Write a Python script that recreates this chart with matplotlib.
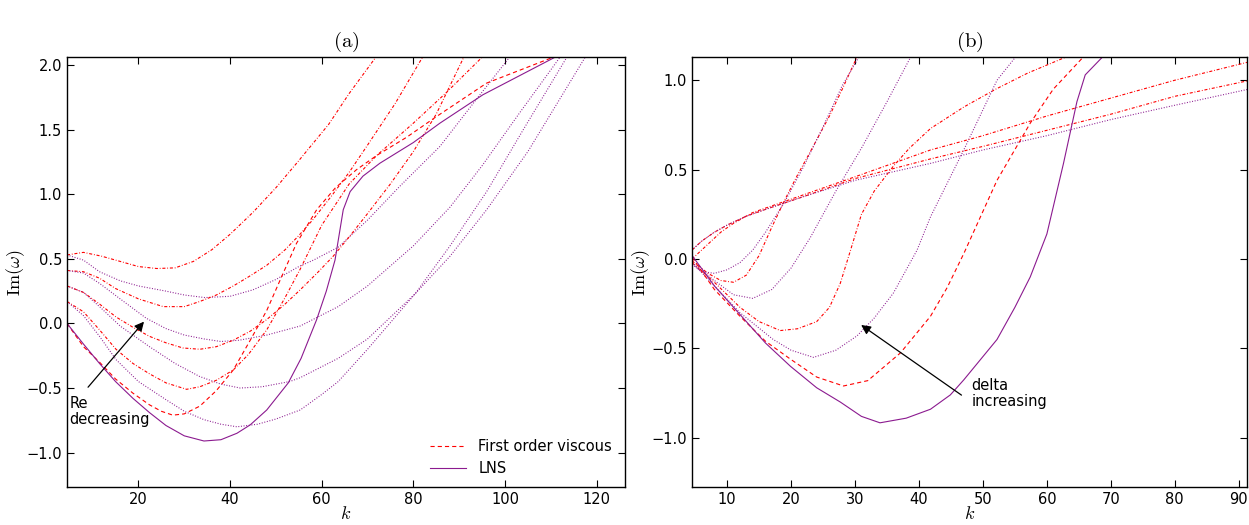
import numpy as np
import matplotlib.pyplot as plt

plt.rcParams['mathtext.fontset'] = 'cm'
plt.rcParams['font.family'] = 'DejaVu Sans'
plt.rcParams['lines.scale_dashes'] = False

# ---------------- panel (a): Re varied ----------------
# legend pair
a_fo_k  = [4.4, 8, 11.5, 15, 18.8, 22.4, 25, 27.5, 30, 33.4, 37, 40.7, 44.4, 48, 51.6, 54.5, 58.9, 63, 67.6, 72, 78.5, 85, 96, 110.5]
a_fo_y  = [0.0, -0.18, -0.30, -0.43, -0.54, -0.63, -0.68, -0.71, -0.70, -0.64, -0.52, -0.36, -0.13, 0.10, 0.39, 0.62, 0.88, 1.05, 1.19, 1.30, 1.44, 1.60, 1.86, 2.06]
a_lns_k = [4.4, 8, 11.5, 15, 18.8, 22.4, 26, 30, 34.3, 38, 41.5, 44.4, 48, 52.7, 55.5, 58.9, 61, 62.9, 64.7, 66.2, 69, 72.7, 80, 85.8, 95.2, 110.9]
a_lns_y = [0.0, -0.16, -0.31, -0.45, -0.58, -0.69, -0.79, -0.87, -0.91, -0.90, -0.85, -0.785, -0.67, -0.46, -0.27, 0.03, 0.25, 0.49, 0.88, 1.02, 1.14, 1.24, 1.40, 1.55, 1.77, 2.06]

# other Re values: first order (red dash-dot) and LNS (purple dotted)
a_r1_k = [4.4, 8, 12, 16, 20, 24, 28, 32, 36, 40, 45, 50, 55, 61.5, 66, 72]
a_r1_y = [0.53, 0.55, 0.52, 0.48, 0.44, 0.425, 0.43, 0.48, 0.57, 0.69, 0.86, 1.05, 1.26, 1.54, 1.78, 2.07]
a_p1_k = [4.4, 8, 11.5, 16, 20, 26, 30, 34.5, 40, 45, 50, 55, 58.2, 63.6, 70, 77, 85.8, 93, 101]
a_p1_y = [0.53, 0.49, 0.40, 0.33, 0.29, 0.25, 0.22, 0.20, 0.21, 0.26, 0.34, 0.44, 0.49, 0.59, 0.80, 1.06, 1.37, 1.70, 2.06]

a_r2_k = [4.4, 8, 11.5, 15, 20, 25.4, 30, 33.4, 37, 40.7, 44, 48, 52, 55, 58, 62, 66, 70, 76, 82]
a_r2_y = [0.41, 0.40, 0.35, 0.27, 0.19, 0.13, 0.13, 0.17, 0.22, 0.29, 0.36, 0.45, 0.57, 0.68, 0.80, 0.98, 1.17, 1.38, 1.70, 2.06]
a_p2_k = [4.4, 8, 11.5, 16, 21.7, 26, 30, 34.3, 38, 42, 48, 55.3, 63.6, 70, 80, 88, 95, 103, 112]
a_p2_y = [0.41, 0.39, 0.31, 0.19, 0.04, -0.04, -0.09, -0.12, -0.14, -0.13, -0.09, -0.02, 0.13, 0.29, 0.60, 0.90, 1.22, 1.62, 2.06]

a_r3_k = [4.4, 8, 11.5, 15.1, 18.8, 22.4, 26, 29.7, 33.4, 37, 40.7, 44.4, 48, 52, 55.3, 59, 62.5, 66, 70, 75, 80, 85, 91]
a_r3_y = [0.29, 0.24, 0.15, 0.05, -0.03, -0.10, -0.15, -0.19, -0.20, -0.18, -0.13, -0.06, 0.03, 0.15, 0.26, 0.39, 0.52, 0.67, 0.85, 1.08, 1.33, 1.62, 2.06]
a_p3_k = [4.4, 8, 11.5, 16, 22.4, 28, 33.3, 38, 42.2, 47, 53, 55.3, 63.6, 70, 80.4, 88, 96, 105, 117.5]
a_p3_y = [0.29, 0.24, 0.13, -0.02, -0.18, -0.31, -0.41, -0.47, -0.50, -0.49, -0.45, -0.42, -0.27, -0.12, 0.23, 0.52, 0.88, 1.33, 2.06]

a_r4_k = [4.4, 8, 11.5, 15.1, 18.8, 22.4, 26, 30.5, 33.4, 37, 40.7, 44, 48, 52, 55.3, 60, 66, 72, 80, 87, 95]
a_r4_y = [0.17, 0.09, -0.05, -0.20, -0.31, -0.39, -0.46, -0.51, -0.49, -0.44, -0.36, -0.24, -0.05, 0.20, 0.42, 0.76, 1.08, 1.30, 1.55, 1.78, 2.06]
a_p4_k = [4.4, 8, 11.5, 15.1, 20, 26, 30, 34.3, 38, 41.5, 46, 50, 55.3, 60, 63.6, 70, 80.4, 88, 96, 104, 113.5]
a_p4_y = [0.17, 0.06, -0.10, -0.28, -0.45, -0.59, -0.68, -0.745, -0.78, -0.80, -0.78, -0.74, -0.67, -0.55, -0.45, -0.20, 0.23, 0.60, 1.02, 1.50, 2.06]

# ---------------- panel (b): delta varied ----------------
b_fo_k  = [4.5, 8, 12, 16, 19.9, 24, 28.2, 32, 37.1, 41.8, 44.4, 47, 52.2, 57.4, 61, 65.7]
b_fo_y  = [0.01, -0.17, -0.32, -0.46, -0.56, -0.66, -0.71, -0.68, -0.525, -0.32, -0.16, 0.03, 0.44, 0.76, 0.95, 1.13]
b_lns_k = [4.5, 8, 12, 16, 19.9, 24, 27.7, 31, 33.9, 38, 41.8, 44.9, 47, 52.2, 55, 57.4, 60, 62.6, 64.7, 66, 68.7]
b_lns_y = [0.02, -0.15, -0.31, -0.47, -0.60, -0.72, -0.80, -0.88, -0.916, -0.89, -0.84, -0.76, -0.676, -0.45, -0.27, -0.10, 0.14, 0.535, 0.88, 1.03, 1.13]

b_r2_k = [4.5, 8, 12, 15, 18.3, 21, 24, 26, 27.7, 29.3, 31, 33, 36, 38.5, 41.8, 47, 52, 57, 63]
b_r2_y = [-0.02, -0.13, -0.27, -0.35, -0.40, -0.39, -0.35, -0.27, -0.135, 0.05, 0.25, 0.38, 0.52, 0.62, 0.73, 0.85, 0.95, 1.04, 1.13]
b_p2_k = [4.5, 8, 12, 17.2, 20, 23.5, 27, 30.3, 33, 36, 39.7, 41.8, 47, 52.2, 55.1]
b_p2_y = [-0.02, -0.15, -0.30, -0.45, -0.51, -0.55, -0.51, -0.43, -0.33, -0.19, 0.05, 0.236, 0.61, 1.00, 1.13]

b_r3_k = [4.5, 7, 9, 11, 13, 15, 17, 19, 21, 23, 26, 28, 30.3]
b_r3_y = [-0.01, -0.08, -0.12, -0.13, -0.09, 0.02, 0.18, 0.33, 0.47, 0.60, 0.80, 0.95, 1.13]
b_p3_k = [4.5, 8, 11, 14, 17, 20, 23, 27, 31, 35, 38.7]
b_p3_y = [-0.02, -0.12, -0.20, -0.22, -0.17, -0.05, 0.12, 0.38, 0.62, 0.88, 1.13]

b_r4_k = [4.5, 6, 7.5, 9, 11, 14, 18, 22, 30, 41.8, 50, 60, 70, 80, 91.3]
b_r4_y = [0.0, 0.05, 0.10, 0.15, 0.20, 0.26, 0.31, 0.36, 0.46, 0.61, 0.69, 0.80, 0.90, 1.00, 1.10]
b_p4_k = [4.5, 6, 8, 10, 12, 14, 16, 19, 22, 25, 28, 30.6]
b_p4_y = [-0.03, -0.07, -0.08, -0.06, -0.02, 0.05, 0.15, 0.32, 0.52, 0.74, 0.97, 1.13]

b_r5_k = [4.5, 6, 8, 10, 13, 17, 22, 30, 41.8, 50, 60, 70, 80, 91.3]
b_r5_y = [0.05, 0.10, 0.15, 0.19, 0.24, 0.29, 0.35, 0.45, 0.56, 0.63, 0.72, 0.81, 0.91, 0.996]
b_p5_k = [4.5, 6, 8, 10, 13, 17, 22, 30, 41.8, 50, 60, 70, 80, 91.3]
b_p5_y = [0.05, 0.10, 0.15, 0.19, 0.24, 0.29, 0.35, 0.44, 0.535, 0.61, 0.69, 0.78, 0.86, 0.948]

RED = '#ff0000'
PUR = '#8b1a8f'
LW = 0.8
DASHED = (3.0, 2.2)
DASHDOT = (2.2, 1.3, 0.6, 1.3)
DOTTED = (0.7, 1.2)

fig = plt.figure(figsize=(12.49, 5.25), dpi=100)
W, H = 1249.0, 525.0
ax1 = fig.add_axes([67 / W, 1 - 487 / H, (625 - 67) / W, (487 - 57) / H])
ax2 = fig.add_axes([692 / W, 1 - 487 / H, (1247 - 692) / W, (487 - 57) / H])


def draw_pairs(ax, pairs):
    for rk, ry, pk, py in pairs:
        ax.plot(rk, ry, color=RED, lw=LW, dashes=DASHDOT)
        ax.plot(pk, py, color=PUR, lw=LW, dashes=DOTTED)


# panel (a)
draw_pairs(ax1, [(a_r1_k, a_r1_y, a_p1_k, a_p1_y),
                 (a_r2_k, a_r2_y, a_p2_k, a_p2_y),
                 (a_r3_k, a_r3_y, a_p3_k, a_p3_y),
                 (a_r4_k, a_r4_y, a_p4_k, a_p4_y)])
ax1.plot(a_fo_k, a_fo_y, color=RED, lw=LW, dashes=DASHED, label='First order viscous')
ax1.plot(a_lns_k, a_lns_y, color=PUR, ls='-', lw=LW, label='LNS')
ax1.set_xlim(4.4, 126.2)
ax1.set_ylim(-1.266, 2.062)
ax1.set_xticks([20, 40, 60, 80, 100, 120])
ax1.set_yticks([-1.0, -0.5, 0.0, 0.5, 1.0, 1.5, 2.0])
ax1.annotate('', xy=(21.6, 0.03), xytext=(8.6, -0.51),
             arrowprops=dict(arrowstyle='-|>', color='black', lw=0.9, mutation_scale=14))
ax1.text(5.0, -0.56, 'Re\ndecreasing', ha='left', va='top', fontsize=10.5, linespacing=1.1)
ax1.legend(loc='lower right', frameon=False, fontsize=10.5, handlelength=2.5,
           bbox_to_anchor=(1.0, -0.005))
ax1.set_title(r'$\mathrm{(a)}$', fontsize=15, pad=7)

# panel (b)
draw_pairs(ax2, [(b_r2_k, b_r2_y, b_p2_k, b_p2_y),
                 (b_r3_k, b_r3_y, b_p3_k, b_p3_y),
                 (b_r4_k, b_r4_y, b_p4_k, b_p4_y),
                 (b_r5_k, b_r5_y, b_p5_k, b_p5_y)])
ax2.plot(b_fo_k, b_fo_y, color=RED, lw=LW, dashes=DASHED)
ax2.plot(b_lns_k, b_lns_y, color=PUR, ls='-', lw=LW)
ax2.set_xlim(4.5, 91.3)
ax2.set_ylim(-1.275, 1.13)
ax2.set_xticks([10, 20, 30, 40, 50, 60, 70, 80, 90])
ax2.set_yticks([-1.0, -0.5, 0.0, 0.5, 1.0])
ax2.annotate('', xy=(30.6, -0.36), xytext=(47.0, -0.77),
             arrowprops=dict(arrowstyle='-|>', color='black', lw=0.9, mutation_scale=14))
ax2.text(48.2, -0.665, 'delta\nincreasing', ha='left', va='top', fontsize=10.5, linespacing=1.1)
ax2.set_title(r'$\mathrm{(b)}$', fontsize=15, pad=7)

for ax in (ax1, ax2):
    ax.tick_params(direction='in', top=True, right=True, length=5, labelsize=10.5)
    ax.set_xlabel(r'$k$', fontsize=13, labelpad=-1)
    ax.set_ylabel(r'$\mathrm{Im}(\omega)$', fontsize=13, labelpad=0)
    for s in ax.spines.values():
        s.set_linewidth(1.0)

fig.savefig('out.png', dpi=100)
